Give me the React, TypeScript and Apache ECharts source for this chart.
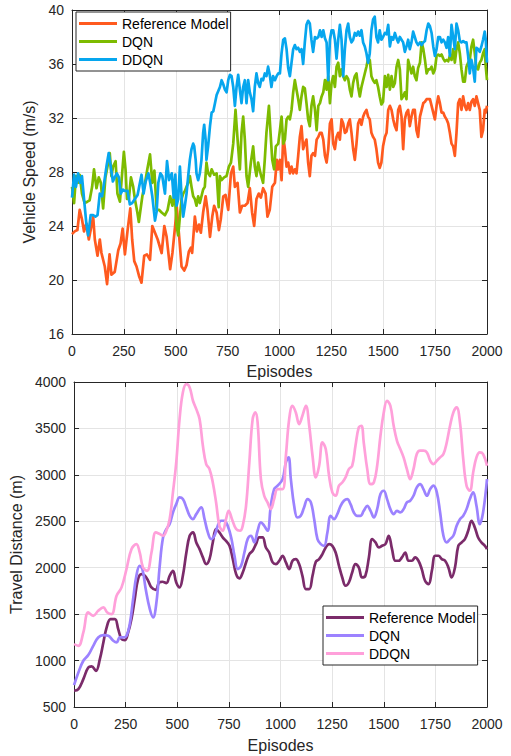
import React, { useEffect, useRef } from 'react';
import * as echarts from 'echarts';

const seriesNames = ['Reference Model', 'DQN', 'DDQN'];

// Vehicle speed (m/s) vs episode
const speedRef: [number, number][] = [
  [0,23.4],[13,23.6],[26,23.7],[37,25.2],[48,24.5],[58,23.6],[69,24.2],[81,23.0],[90,23.7],[102,24.7],[110,23.0],[123,21.8],[134,23.0],[142,22.0],[158,21.0],[169,19.7],[181,21.9],[190,20.4],[206,20.6],[223,22.2],[234,22.7],[244,23.8],[255,21.9],[268,23.7],[281,25.3],[290,23.0],[300,21.4],[311,21.0],[323,20.3],[335,19.8],[348,21.8],[361,21.9],[376,21.5],[387,24.0],[400,23.5],[413,23.0],[432,22.0],[445,24.0],[456,23.2],[473,20.8],[484,22.0],[497,24.0],[505,25.4],[515,23.5],[528,21.0],[541,20.7],[552,21.1],[563,22.1],[573,22.4],[579,22.0],[592,24.7],[602,23.6],[612,24.1],[621,23.5],[632,25.0],[644,26.2],[653,25.2],[665,23.2],[676,24.7],[685,25.5],[697,25.0],[708,23.7],[717,24.5],[729,26.2],[740,26.3],[753,25.2],[766,27.9],[777,28.4],[785,26.9],[798,27.2],[809,25.0],[820,25.5],[833,25.5],[846,25.7],[857,26.8],[868,25.0],[878,24.0],[889,26.0],[900,26.4],[910,26.1],[921,26.8],[933,26.4],[942,24.7],[953,25.2],[965,26.9],[978,27.2],[987,28.9],[994,28.2],
  [1002,28.9],[1010,27.4],[1018,30.6],[1026,29.7],[1034,28.4],[1042,28.7],[1050,27.9],[1058,28.4],[1066,27.9],[1074,28.2],[1082,27.9],[1090,29.2],[1098,30.6],[1106,31.4],[1114,29.7],[1122,30.1],[1130,30.4],[1138,28.7],[1146,27.7],[1154,29.2],[1162,29.4],[1171,29.2],[1179,30.4],[1187,30.6],[1195,30.9],[1203,30.9],[1211,30.4],[1219,29.2],[1227,28.7],[1235,29.7],[1243,31.6],[1251,31.9],[1259,30.1],[1267,29.7],[1275,30.6],[1283,30.9],[1291,30.4],[1299,31.9],[1307,31.6],[1315,30.9],[1323,31.0],[1331,31.6],[1339,31.9],[1347,30.9],[1355,29.7],[1363,28.9],[1371,30.1],[1379,31.6],[1387,31.9],[1395,31.5],[1403,32.1],[1411,32.4],[1419,32.6],[1427,32.1],[1435,31.9],[1443,30.9],[1451,30.6],[1459,30.4],[1467,29.7],[1475,28.7],[1483,28.3],[1491,28.7],[1499,29.9],
  [1508,30.6],[1516,30.9],[1524,32.6],[1532,32.9],[1540,32.6],[1548,31.9],[1556,31.4],[1564,31.1],[1572,32.6],[1580,32.9],[1588,32.1],[1596,29.7],[1604,31.9],[1612,32.4],[1620,32.6],[1628,31.4],[1636,32.1],[1644,32.6],[1652,32.6],[1660,31.1],[1668,30.6],[1677,32.1],[1685,32.6],[1693,33.1],[1701,33.2],[1709,33.4],[1717,33.4],[1725,33.4],[1733,32.9],[1741,32.4],[1749,31.9],[1757,32.9],[1765,33.6],[1773,33.1],[1781,32.4],[1789,32.4],[1797,32.1],[1805,31.9],[1813,31.6],[1821,30.9],[1829,30.1],[1837,29.9],[1845,29.2],[1853,30.9],[1861,33.1],[1869,33.4],[1877,32.6],[1885,33.6],[1893,32.9],[1901,32.6],[1909,33.1],[1917,32.6],[1925,33.2],[1933,33.4],[1941,32.9],[1949,33.6],[1957,33.1],[1965,32.6],[1973,30.6],[1981,31.1],[1989,32.6],[1994,32.4],[2000,32.9],
];

const speedDQN: [number, number][] = [
  [0,26.9],[10,25.7],[19,27.7],[29,27.2],[37,27.8],[48,26.4],[61,25.7],[74,25.8],[85,25.9],[97,26.9],[106,28.2],[118,26.8],[129,27.6],[139,27.2],[150,25.3],[161,27.6],[171,28.4],[182,29.4],[190,27.7],[198,28.4],[210,28.8],[219,26.4],[231,25.8],[239,27.4],[250,29.5],[258,28.2],[265,26.0],[274,26.0],[284,27.6],[295,26.9],[303,26.0],[315,25.0],[322,24.3],[339,26.2],[352,27.2],[363,28.2],[376,29.3],[387,27.2],[397,28.1],[408,25.2],[419,25.2],[432,25.0],[448,24.8],[461,25.2],[473,26.2],[484,25.5],[495,26.5],[504,24.0],[512,23.3],[520,24.7],[528,26.0],[536,26.4],[544,26.6],[552,26.9],[560,27.2],[568,27.7],[576,26.9],[584,26.2],[592,26.0],[600,25.5],[608,26.2],[616,25.7],[624,26.2],[632,26.7],[640,26.9],[648,28.7],[656,27.9],[665,27.7],[673,28.2],[685,27.8],[697,27.9],[707,25.4],[713,27.7],[721,27.4],[733,27.6],[745,27.7],[756,28.4],[766,28.7],[777,30.1],[788,32.6],[798,30.4],[809,28.2],[817,30.9],[825,32.1],[833,30.4],[841,27.7],[849,26.9],[862,28.7],[873,29.9],[881,28.4],[889,27.7],[897,28.7],[910,27.8],[921,27.2],[929,28.9],[937,30.9],[949,32.9],[958,30.6],[965,28.9],[974,28.2],[982,29.9],[994,30.1],
  [1002,31.1],[1010,32.1],[1018,30.1],[1026,30.4],[1034,31.9],[1042,32.1],[1050,31.9],[1058,32.6],[1066,33.9],[1074,34.8],[1082,34.1],[1090,33.4],[1098,32.6],[1106,33.6],[1114,34.3],[1122,34.2],[1130,33.1],[1138,31.9],[1146,31.4],[1154,32.9],[1162,33.6],[1171,32.6],[1179,31.1],[1187,32.9],[1195,33.1],[1203,33.6],[1211,33.9],[1219,34.8],[1227,34.1],[1235,35.1],[1243,33.1],[1251,34.6],[1259,35.1],[1267,34.3],[1275,35.8],[1283,36.1],[1291,35.1],[1299,35.6],[1307,35.1],[1315,34.8],[1323,35.1],[1331,34.9],[1339,34.1],[1347,33.6],[1355,34.6],[1363,35.1],[1371,35.3],[1379,34.3],[1387,33.6],[1395,34.3],[1403,34.8],[1411,35.3],[1419,35.8],[1427,36.4],[1435,36.3],[1443,35.1],[1451,34.8],[1459,34.6],[1467,34.8],[1475,34.3],[1483,33.6],[1491,33.0],[1499,33.2],
  [1508,35.1],[1516,34.3],[1524,35.2],[1532,34.1],[1540,35.1],[1548,34.3],[1556,34.6],[1564,35.8],[1572,36.3],[1580,35.6],[1588,33.4],[1596,33.6],[1604,33.9],[1612,33.4],[1620,36.3],[1628,35.8],[1636,35.3],[1644,35.8],[1652,35.1],[1660,34.8],[1668,35.7],[1677,36.1],[1685,37.6],[1693,37.1],[1701,36.3],[1709,35.3],[1717,35.6],[1725,35.6],[1733,35.8],[1741,35.3],[1749,35.6],[1757,36.6],[1765,36.7],[1773,36.6],[1781,36.7],[1789,36.4],[1797,36.2],[1805,36.3],[1813,36.2],[1821,36.6],[1829,36.3],[1837,37.1],[1845,36.1],[1853,37.1],[1861,37.6],[1869,36.8],[1877,35.6],[1885,34.7],[1893,34.7],[1901,35.8],[1909,36.1],[1917,36.3],[1925,37.3],[1933,37.8],[1941,36.8],[1949,35.7],[1957,35.6],[1965,36.1],[1973,36.3],[1981,36.8],[1989,37.1],[1994,35.8],[2000,34.8],
];

const speedDDQN: [number, number][] = [
  [0,26.1],[10,27.8],[19,26.9],[29,27.9],[39,27.2],[48,27.7],[58,26.0],[69,24.2],[78,23.3],[90,24.8],[102,24.8],[113,24.7],[123,24.8],[134,26.4],[145,26.2],[155,27.2],[166,28.4],[177,29.4],[187,28.4],[197,27.3],[206,27.6],[216,27.9],[226,27.6],[235,26.4],[245,26.7],[255,26.6],[268,26.6],[279,25.6],[290,25.7],[303,26.0],[316,26.3],[326,27.1],[335,27.8],[345,26.4],[355,27.3],[368,27.9],[377,27.2],[387,26.2],[400,24.4],[408,25.1],[416,27.2],[426,27.9],[435,27.7],[448,26.4],[458,28.8],[468,27.4],[481,27.9],[490,26.1],[498,27.8],[504,25.5],[512,26.0],[520,28.4],[528,26.2],[536,24.7],[544,25.5],[552,26.4],[560,27.7],[568,28.9],[576,29.7],[584,30.1],[589,29.9],[596,28.9],[600,27.9],[608,27.4],[616,27.9],[624,28.9],[632,30.9],[637,31.5],[644,30.4],[648,28.9],[656,29.9],[665,31.4],[673,32.4],[681,32.5],[689,33.1],[697,33.7],[705,34.0],[713,34.3],[721,34.8],[729,34.5],[737,34.1],[745,33.9],[753,34.8],[761,35.2],[769,35.1],[777,34.3],[785,32.9],[793,34.3],[801,35.2],[809,34.1],[817,33.1],[825,34.3],[833,34.8],[841,33.1],[849,34.8],[857,33.9],[865,33.4],[873,32.5],[881,34.3],[889,35.3],[897,34.6],[905,34.3],[913,34.9],[921,34.8],[929,35.3],[937,35.1],[945,35.8],[953,35.2],[961,34.3],[969,35.1],[978,34.8],[986,35.1],[994,35.3],
  [1002,35.3],[1010,36.8],[1018,37.8],[1026,37.9],[1034,37.1],[1042,35.7],[1050,35.1],[1058,36.1],[1066,37.1],[1074,37.4],[1082,37.1],[1090,37.2],[1098,36.9],[1106,37.1],[1114,36.0],[1122,37.6],[1130,38.9],[1138,39.2],[1146,39.0],[1154,37.8],[1162,36.9],[1171,38.0],[1179,37.9],[1187,38.0],[1195,38.5],[1203,38.0],[1211,38.5],[1219,37.9],[1227,37.6],[1235,34.8],[1243,37.8],[1251,38.5],[1259,38.5],[1267,37.8],[1275,36.4],[1283,37.8],[1291,38.9],[1299,37.8],[1307,35.1],[1315,37.1],[1323,38.5],[1331,39.0],[1339,38.0],[1347,37.6],[1355,37.8],[1363,38.3],[1371,38.1],[1379,38.4],[1387,38.1],[1395,38.5],[1403,37.6],[1411,37.3],[1419,36.8],[1427,36.1],[1435,36.8],[1443,38.5],[1451,39.3],[1459,39.5],[1467,38.0],[1475,37.6],[1483,38.5],[1491,37.8],[1499,38.0],
  [1508,38.3],[1516,38.2],[1524,38.9],[1532,37.3],[1540,38.0],[1548,37.8],[1556,38.3],[1564,37.9],[1572,37.6],[1580,38.0],[1588,37.8],[1596,37.6],[1604,36.9],[1612,37.3],[1620,37.8],[1628,37.1],[1636,37.6],[1644,38.4],[1652,38.0],[1660,37.6],[1668,37.4],[1677,37.6],[1685,37.4],[1693,37.6],[1701,37.7],[1709,38.5],[1717,39.0],[1725,38.8],[1733,38.3],[1741,37.3],[1749,36.6],[1757,37.1],[1765,38.0],[1773,38.0],[1781,37.6],[1789,37.8],[1797,37.6],[1805,37.2],[1813,38.0],[1821,36.6],[1829,38.9],[1837,38.0],[1845,37.1],[1853,39.0],[1861,38.5],[1869,37.7],[1877,37.6],[1885,37.7],[1893,37.6],[1901,37.6],[1909,36.6],[1917,35.3],[1925,36.3],[1933,35.7],[1941,34.7],[1949,37.2],[1957,37.1],[1965,36.9],[1973,37.3],[1981,37.8],[1989,38.4],[1994,37.8],[2000,36.1],
];

// Travel distance (m) vs episode
const distRef: [number, number][] = [
  [0,675],[21,693],[45,800],[69,926],[85,937],[106,890],[125,1016],[142,1195],[158,1357],[177,1447],[198,1447],[214,1339],[230,1231],[246,1220],[262,1303],[278,1447],[294,1662],[310,1877],[326,1931],[343,1913],[359,1859],[375,1788],[396,1762],[412,1841],[428,1849],[447,1834],[463,1913],[479,1967],[495,1841],[511,1788],[527,1913],[544,2164],[560,2344],[576,2380],[592,2272],[608,2200],[624,2111],[640,2039],[656,2093],[672,2272],[688,2416],[704,2380],[720,2326],[736,2290],[753,2236],[769,2093],[785,1931],[801,1885],[817,1949],[833,2057],[849,2147],[865,2183],[881,2254],[897,2326],[913,2326],[929,2218],[945,2164],[962,2057],[978,2039],[994,2075],[1010,2129],[1026,2057],[1042,1985],[1058,2075],[1074,2093],[1090,2039],[1106,1913],[1123,1770],[1139,1770],[1155,1913],[1171,2064],[1187,2093],[1203,2147],[1219,2218],[1235,2254],[1251,2236],[1267,2164],[1283,2021],[1299,1895],[1315,1806],[1331,1841],[1347,1949],[1363,2039],[1379,2003],[1395,1895],[1411,1913],[1428,2111],[1444,2308],[1460,2272],[1476,2218],[1492,2236],[1508,2254],[1524,2344],[1540,2200],[1556,2075],[1572,2075],[1588,2111],[1604,2164],[1620,2075],[1636,2075],[1652,2111],[1668,2075],[1684,1985],[1700,1859],[1717,1823],[1733,1967],[1749,2129],[1765,2129],[1781,2093],[1797,2075],[1813,2003],[1829,1895],[1845,2003],[1861,2236],[1877,2272],[1893,2308],[1909,2398],[1925,2506],[1941,2434],[1957,2326],[1973,2272],[1990,2236],[2000,2200],
];

const distDQN: [number, number][] = [
  [0,736],[21,872],[45,998],[69,1059],[93,1159],[117,1249],[142,1274],[166,1267],[190,1213],[206,1195],[222,1249],[238,1249],[254,1267],[270,1393],[286,1662],[302,1913],[318,2021],[331,1985],[347,1770],[367,1554],[383,1465],[399,1626],[415,2021],[431,2326],[447,2416],[463,2470],[479,2595],[495,2685],[511,2757],[527,2739],[544,2649],[560,2559],[576,2523],[592,2577],[616,2649],[632,2523],[648,2380],[664,2308],[680,2344],[696,2452],[712,2506],[728,2506],[744,2452],[761,2326],[777,2129],[793,1985],[809,2021],[825,2164],[841,2308],[857,2344],[873,2272],[889,2398],[905,2488],[921,2452],[937,2398],[953,2667],[969,2847],[986,2883],[1010,2954],[1026,3134],[1039,3188],[1050,2954],[1066,2667],[1082,2541],[1098,2559],[1114,2649],[1131,2739],[1147,2703],[1163,2523],[1179,2308],[1195,2254],[1211,2236],[1227,2380],[1243,2559],[1259,2523],[1275,2577],[1291,2667],[1307,2721],[1323,2739],[1339,2685],[1355,2595],[1371,2559],[1387,2559],[1403,2613],[1420,2667],[1436,2613],[1452,2541],[1468,2631],[1484,2793],[1500,2829],[1516,2739],[1532,2631],[1548,2577],[1564,2613],[1580,2595],[1596,2631],[1612,2703],[1628,2721],[1644,2775],[1660,2865],[1676,2900],[1692,2847],[1709,2775],[1725,2847],[1741,2883],[1757,2811],[1773,2595],[1789,2344],[1805,2272],[1821,2308],[1837,2344],[1853,2452],[1869,2523],[1885,2559],[1901,2631],[1917,2739],[1933,2811],[1949,2667],[1965,2470],[1981,2595],[2000,2954],
];

const distDDQN: [number, number][] = [
  [0,1177],[21,1159],[45,1303],[69,1518],[93,1482],[117,1536],[142,1572],[161,1518],[182,1500],[206,1698],[230,1788],[254,1985],[278,2200],[302,2254],[318,2164],[334,2003],[354,1967],[375,2164],[396,2380],[415,2362],[431,2344],[447,2398],[463,2523],[479,2811],[495,3134],[511,3601],[527,3888],[544,3977],[560,3942],[576,3798],[592,3708],[608,3601],[624,3313],[640,3116],[656,3062],[672,2918],[688,2703],[704,2452],[720,2398],[736,2523],[749,2613],[765,2523],[785,2416],[804,2398],[817,2452],[833,2667],[849,3134],[865,3601],[878,3672],[889,3565],[905,2954],[921,2775],[937,2703],[953,2631],[969,2739],[986,2847],[1010,2847],[1026,3206],[1042,3601],[1058,3744],[1074,3672],[1090,3547],[1106,3637],[1123,3744],[1139,3529],[1155,3206],[1171,2972],[1187,3098],[1203,3349],[1219,3278],[1235,2990],[1251,2811],[1267,2775],[1283,2883],[1299,2918],[1315,2972],[1331,3062],[1347,3098],[1363,3313],[1379,3511],[1392,3529],[1403,3349],[1420,3062],[1436,2900],[1452,2918],[1468,3098],[1484,3421],[1500,3672],[1516,3798],[1532,3744],[1548,3529],[1564,3367],[1580,3278],[1596,3188],[1612,3062],[1628,2954],[1644,3062],[1660,3224],[1676,3260],[1692,3260],[1709,3242],[1725,3152],[1741,3116],[1757,3152],[1773,3188],[1789,3224],[1805,3349],[1821,3529],[1837,3672],[1853,3726],[1869,3565],[1885,3170],[1901,2883],[1917,2829],[1933,3026],[1949,3188],[1965,3242],[1981,3224],[2000,3098],
];

const speedColors = ['#FF5A1F', '#7DBB00', '#06A6EE'];
const distColors = ['#7B2B6A', '#9C82FF', '#FFA0DA'];
const distIds = ['dist-ref', 'dist-dqn', 'dist-ddqn'];

const FONT = '"Liberation Sans", Arial, Helvetica, sans-serif';
const AX = '#262626';
const GRIDLINE = '#e4e4e4';
const plain = (v: number) => String(v);

function mainX(gridIndex: number, nameGap: number) {
  return {
    type: 'value', gridIndex, min: 0, max: 2000, interval: 250,
    name: 'Episodes', nameLocation: 'middle', nameGap,
    nameTextStyle: { fontSize: 16, color: AX, fontFamily: FONT },
    axisLine: { show: true, onZero: false, lineStyle: { color: AX, width: 1 } },
    axisTick: { show: true, inside: true, length: 5, lineStyle: { color: AX } },
    axisLabel: { fontSize: 14, color: AX, fontFamily: FONT, margin: 10, formatter: plain },
    splitLine: { show: true, lineStyle: { color: GRIDLINE, width: 1 } },
  };
}
function mirrorX(gridIndex: number) {
  return {
    type: 'value', gridIndex, min: 0, max: 2000, interval: 250, position: 'top',
    axisLine: { show: true, onZero: false, lineStyle: { color: AX, width: 1 } },
    axisTick: { show: true, inside: true, length: 5, lineStyle: { color: AX } },
    axisLabel: { show: false }, splitLine: { show: false },
  };
}
function mainY(gridIndex: number, min: number, max: number, interval: number, name: string, nameGap: number) {
  return {
    type: 'value', gridIndex, min, max, interval, name, nameLocation: 'middle', nameGap,
    nameTextStyle: { fontSize: 16, color: AX, fontFamily: FONT },
    axisLine: { show: true, onZero: false, lineStyle: { color: AX, width: 1 } },
    axisTick: { show: true, inside: true, length: 5, lineStyle: { color: AX } },
    axisLabel: { fontSize: 14, color: AX, fontFamily: FONT, margin: 8, formatter: plain },
    splitLine: { show: true, lineStyle: { color: GRIDLINE, width: 1 } },
  };
}
function mirrorY(gridIndex: number, min: number, max: number, interval: number) {
  return {
    type: 'value', gridIndex, min, max, interval, position: 'right',
    axisLine: { show: true, onZero: false, lineStyle: { color: AX, width: 1 } },
    axisTick: { show: true, inside: true, length: 5, lineStyle: { color: AX } },
    axisLabel: { show: false }, splitLine: { show: false },
  };
}

const legendBase = {
  orient: 'vertical', icon: 'rect', itemWidth: 38, itemHeight: 3, itemGap: 3,
  padding: [4, 2, 4, 3], borderColor: AX, borderWidth: 1, backgroundColor: '#ffffff',
  selectedMode: false, z: 10,
  textStyle: { fontSize: 14, color: '#000', fontFamily: FONT, lineHeight: 15 },
};

export default function App() {
  const ref = useRef<HTMLDivElement>(null);
  useEffect(() => {
    const chart = echarts.init(ref.current!, null, { renderer: 'svg' });
    const speedData = [speedRef, speedDQN, speedDDQN];
    const distData = [distRef, distDQN, distDDQN];
    const option: any = {
      animation: false,
      backgroundColor: '#ffffff',
      grid: [
        { left: 72, top: 10, width: 415, height: 324 },
        { left: 72, top: 382, width: 415, height: 325 },
      ],
      xAxis: [mainX(0, 29), mirrorX(0), mainX(1, 30), mirrorX(1)],
      yAxis: [
        mainY(0, 16, 40, 4, 'Vehicle Speed (m/s)', 30), mirrorY(0, 16, 40, 4),
        mainY(1, 500, 4000, 500, 'Travel Distance (m)', 44), mirrorY(1, 500, 4000, 500),
      ],
      legend: [
        { ...legendBase, left: 76, top: 12, data: seriesNames },
        {
          ...legendBase, left: 323, top: 606, data: distIds,
          formatter: (n: string) => seriesNames[distIds.indexOf(n)],
        },
      ],
      series: [
        ...seriesNames.map((name, i) => ({
          name, type: 'line', xAxisIndex: 0, yAxisIndex: 0,
          data: speedData[i], symbol: 'none', showSymbol: false,
          color: speedColors[i],
          lineStyle: { width: 2.7, color: speedColors[i], join: 'round' },
          z: 2 + i,
        })),
        ...distIds.map((id, i) => ({
          name: id, type: 'line', xAxisIndex: 2, yAxisIndex: 2,
          data: distData[i], symbol: 'none', showSymbol: false, smooth: 0.4,
          color: distColors[i],
          lineStyle: { width: 2.7, color: distColors[i] },
          z: 2 + i,
        })),
      ],
    };
    chart.setOption(option);
    return () => chart.dispose();
  }, []);
  return (
    <div
      ref={ref}
      style={{ position: 'fixed', left: 0, top: 0, width: 511, height: 756, background: '#fff' }}
    />
  );
}
